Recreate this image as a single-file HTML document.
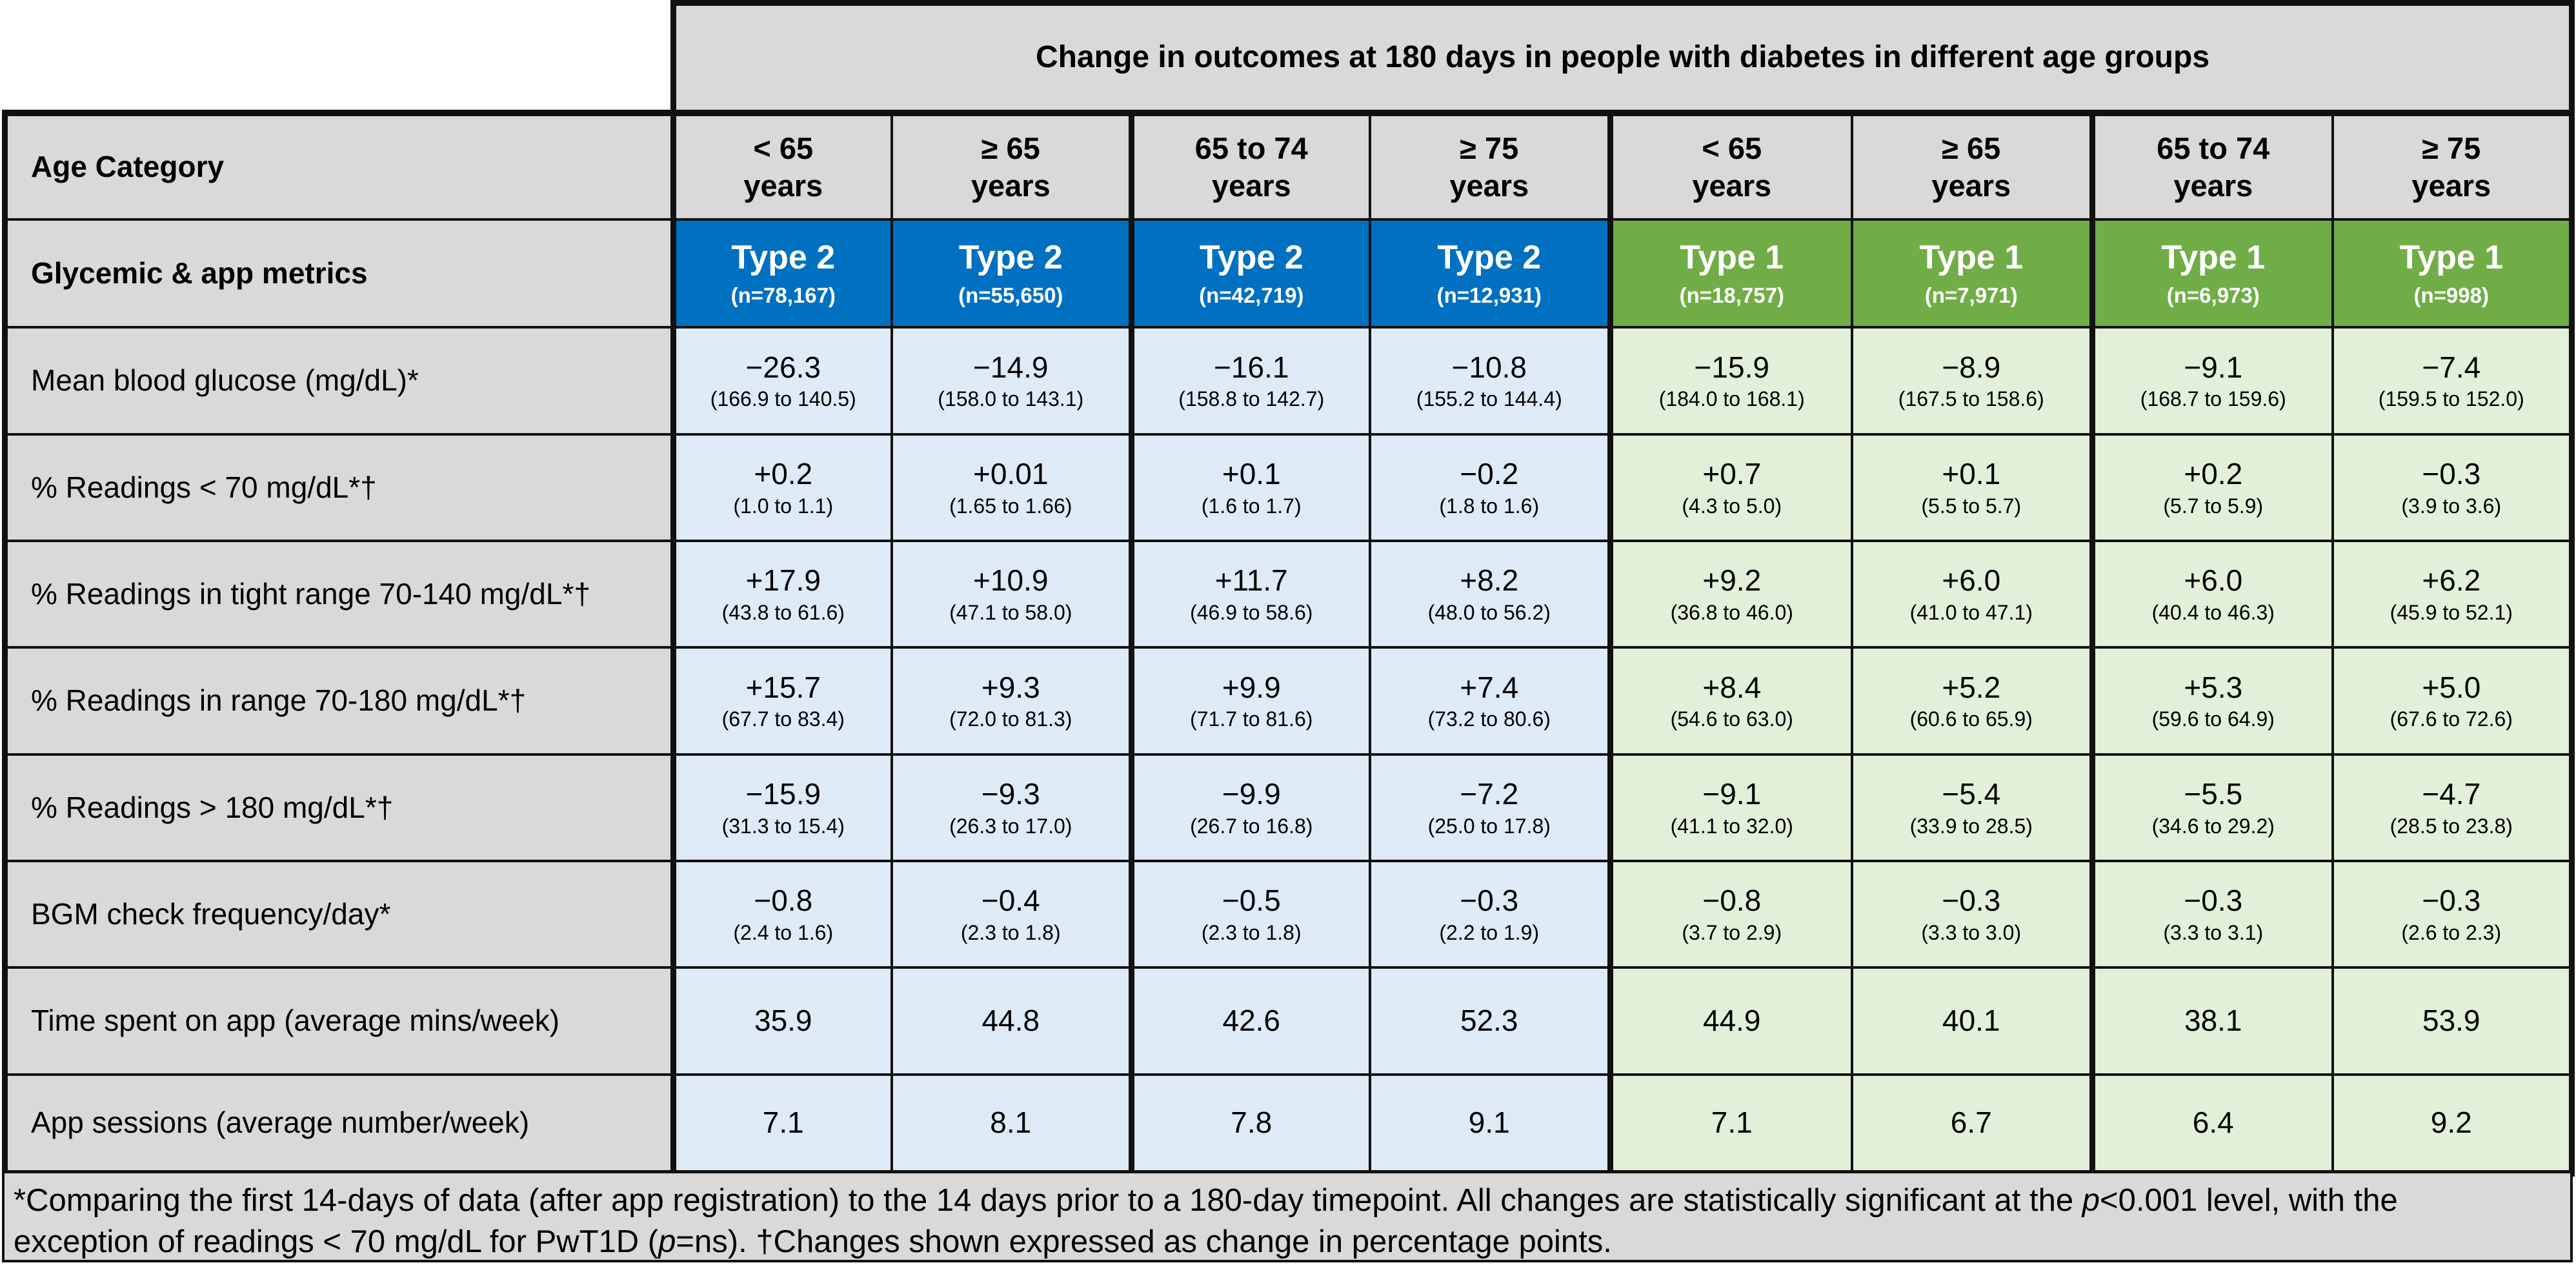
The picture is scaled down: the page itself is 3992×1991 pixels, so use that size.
<!DOCTYPE html>
<html><head><meta charset="utf-8"><style>
html,body{margin:0;padding:0;background:#fff;}
body{width:3992px;height:1991px;position:relative;overflow:hidden;font-family:"Liberation Sans",sans-serif;}
table{position:absolute;left:3px;top:0;border-collapse:collapse;table-layout:fixed;width:3978px;}
td{border:4px solid #111;text-align:center;vertical-align:middle;padding:0;color:#000;line-height:1.22;}
.lab{text-align:left;padding-left:36px;background:#d9d9d9;font-size:46px;}
.hd{background:#d9d9d9;font-weight:bold;font-size:47px;}
.b{background:#0070c0;color:#fff;font-weight:bold;font-size:52px;}
.g{background:#70ad47;color:#fff;font-weight:bold;font-size:52px;}
.b small,.g small{font-size:33px;display:block;margin-top:6px;}
.lb{background:#deeaf6;font-size:46px;}
.lg{background:#e2efd9;font-size:46px;}
.lb small,.lg small{font-size:32px;display:block;margin-top:2px;}
.tk{border-left-width:9px;}
.tr{border-right-width:9px;}
tr.top td{border-top-width:10px;}
tr.last td{border-bottom-width:10px;}
.foot{position:absolute;left:3px;top:1818px;width:3962px;height:134px;border:4px solid #111;border-top:none;background:#d9d9d9;font-size:49px;line-height:64px;padding-left:14px;box-sizing:content-box;white-space:nowrap;}
</style></head><body>
<table>
<colgroup><col style="width:1036px"><col style="width:338px"><col style="width:372px"><col style="width:369px"><col style="width:373px"><col style="width:374px"><col style="width:373px"><col style="width:372px"><col style="width:371px"></colgroup>
<tr style="height:170px"><td style="border:none;background:#fff;"></td><td colspan="8" class="hd tk tr" style="border-top-width:9px;font-size:48px;">Change in outcomes at 180 days in people with diabetes in different age groups</td></tr>
<tr class="top" style="height:165px"><td class="lab" style="font-weight:bold;border-left-width:9px;">Age Category</td><td class="hd tk">&lt; 65<br>years</td><td class="hd">≥ 65<br>years</td><td class="hd tk">65 to 74<br>years</td><td class="hd">≥ 75<br>years</td><td class="hd tk">&lt; 65<br>years</td><td class="hd">≥ 65<br>years</td><td class="hd tk">65 to 74<br>years</td><td class="hd tr">≥ 75<br>years</td></tr>
<tr style="height:167px"><td class="lab" style="font-weight:bold;border-left-width:9px;">Glycemic &amp; app metrics</td><td class="b tk">Type 2<small>(n=78,167)</small></td><td class="b">Type 2<small>(n=55,650)</small></td><td class="b tk">Type 2<small>(n=42,719)</small></td><td class="b">Type 2<small>(n=12,931)</small></td><td class="g tk">Type 1<small>(n=18,757)</small></td><td class="g">Type 1<small>(n=7,971)</small></td><td class="g tk">Type 1<small>(n=6,973)</small></td><td class="g tr">Type 1<small>(n=998)</small></td></tr>
<tr style="height:166px"><td class="lab" style="border-left-width:9px;">Mean blood glucose (mg/dL)*</td><td class="lb tk">−26.3<small>(166.9 to 140.5)</small></td><td class="lb">−14.9<small>(158.0 to 143.1)</small></td><td class="lb tk">−16.1<small>(158.8 to 142.7)</small></td><td class="lb">−10.8<small>(155.2 to 144.4)</small></td><td class="lg tk">−15.9<small>(184.0 to 168.1)</small></td><td class="lg">−8.9<small>(167.5 to 158.6)</small></td><td class="lg tk">−9.1<small>(168.7 to 159.6)</small></td><td class="lg tr">−7.4<small>(159.5 to 152.0)</small></td></tr>
<tr style="height:165px"><td class="lab" style="border-left-width:9px;">% Readings &lt; 70 mg/dL*†</td><td class="lb tk">+0.2<small>(1.0 to 1.1)</small></td><td class="lb">+0.01<small>(1.65 to 1.66)</small></td><td class="lb tk">+0.1<small>(1.6 to 1.7)</small></td><td class="lb">−0.2<small>(1.8 to 1.6)</small></td><td class="lg tk">+0.7<small>(4.3 to 5.0)</small></td><td class="lg">+0.1<small>(5.5 to 5.7)</small></td><td class="lg tk">+0.2<small>(5.7 to 5.9)</small></td><td class="lg tr">−0.3<small>(3.9 to 3.6)</small></td></tr>
<tr style="height:165px"><td class="lab" style="border-left-width:9px;">% Readings in tight range 70-140 mg/dL*†</td><td class="lb tk">+17.9<small>(43.8 to 61.6)</small></td><td class="lb">+10.9<small>(47.1 to 58.0)</small></td><td class="lb tk">+11.7<small>(46.9 to 58.6)</small></td><td class="lb">+8.2<small>(48.0 to 56.2)</small></td><td class="lg tk">+9.2<small>(36.8 to 46.0)</small></td><td class="lg">+6.0<small>(41.0 to 47.1)</small></td><td class="lg tk">+6.0<small>(40.4 to 46.3)</small></td><td class="lg tr">+6.2<small>(45.9 to 52.1)</small></td></tr>
<tr style="height:166px"><td class="lab" style="border-left-width:9px;">% Readings in range 70-180 mg/dL*†</td><td class="lb tk">+15.7<small>(67.7 to 83.4)</small></td><td class="lb">+9.3<small>(72.0 to 81.3)</small></td><td class="lb tk">+9.9<small>(71.7 to 81.6)</small></td><td class="lb">+7.4<small>(73.2 to 80.6)</small></td><td class="lg tk">+8.4<small>(54.6 to 63.0)</small></td><td class="lg">+5.2<small>(60.6 to 65.9)</small></td><td class="lg tk">+5.3<small>(59.6 to 64.9)</small></td><td class="lg tr">+5.0<small>(67.6 to 72.6)</small></td></tr>
<tr style="height:165px"><td class="lab" style="border-left-width:9px;">% Readings &gt; 180 mg/dL*†</td><td class="lb tk">−15.9<small>(31.3 to 15.4)</small></td><td class="lb">−9.3<small>(26.3 to 17.0)</small></td><td class="lb tk">−9.9<small>(26.7 to 16.8)</small></td><td class="lb">−7.2<small>(25.0 to 17.8)</small></td><td class="lg tk">−9.1<small>(41.1 to 32.0)</small></td><td class="lg">−5.4<small>(33.9 to 28.5)</small></td><td class="lg tk">−5.5<small>(34.6 to 29.2)</small></td><td class="lg tr">−4.7<small>(28.5 to 23.8)</small></td></tr>
<tr style="height:165px"><td class="lab" style="border-left-width:9px;">BGM check frequency/day*</td><td class="lb tk">−0.8<small>(2.4 to 1.6)</small></td><td class="lb">−0.4<small>(2.3 to 1.8)</small></td><td class="lb tk">−0.5<small>(2.3 to 1.8)</small></td><td class="lb">−0.3<small>(2.2 to 1.9)</small></td><td class="lg tk">−0.8<small>(3.7 to 2.9)</small></td><td class="lg">−0.3<small>(3.3 to 3.0)</small></td><td class="lg tk">−0.3<small>(3.3 to 3.1)</small></td><td class="lg tr">−0.3<small>(2.6 to 2.3)</small></td></tr>
<tr style="height:166px"><td class="lab" style="border-left-width:9px;">Time spent on app (average mins/week)</td><td class="lb tk">35.9</td><td class="lb">44.8</td><td class="lb tk">42.6</td><td class="lb">52.3</td><td class="lg tk">44.9</td><td class="lg">40.1</td><td class="lg tk">38.1</td><td class="lg tr">53.9</td></tr>
<tr class="last" style="height:153px"><td class="lab" style="border-left-width:9px;">App sessions (average number/week)</td><td class="lb tk">7.1</td><td class="lb">8.1</td><td class="lb tk">7.8</td><td class="lb">9.1</td><td class="lg tk">7.1</td><td class="lg">6.7</td><td class="lg tk">6.4</td><td class="lg tr">9.2</td></tr>
</table>
<div class="foot"><div style="padding-top:10px;">*Comparing the first 14-days of data (after app registration) to the 14 days prior to a 180-day timepoint. All changes are statistically significant at the <i>p</i>&lt;0.001 level, with the<br>exception of readings &lt; 70 mg/dL for PwT1D (<i>p</i>=ns). †Changes shown expressed as change in percentage points.</div></div>
</body></html>
